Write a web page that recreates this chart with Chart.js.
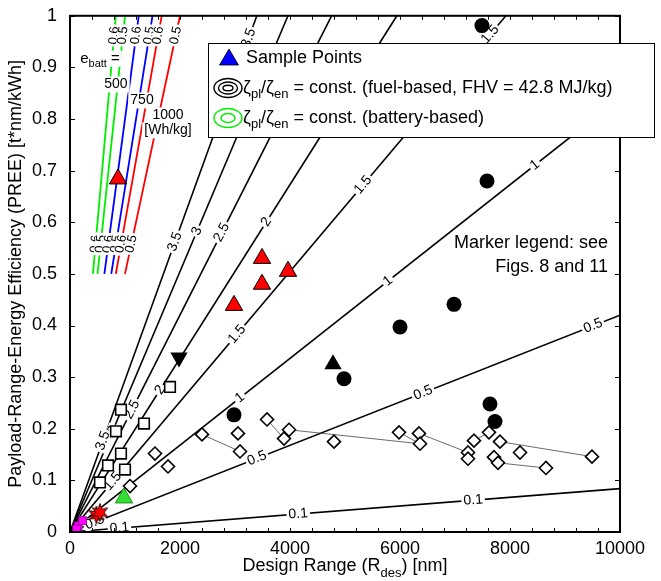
<!DOCTYPE html>
<html>
<head>
<meta charset="utf-8">
<script src="https://cdn.jsdelivr.net/npm/chart.js@4.4.0/dist/chart.umd.min.js"></script>
<style>
  html, body { margin: 0; padding: 0; background: #fff; }
</style>
</head>
<body>
<canvas id="pree" width="661" height="581"></canvas>
<script>
const FONT = "'Liberation Sans', Arial, Helvetica, sans-serif";

// fuel-based lines of constant zeta_pl/zeta_en (FHV = 42.8 MJ/kg), from the origin to the axes edge
const fuelLevels = [0.1, 0.5, 1, 1.5, 2, 2.5, 3, 3.5];
const fuelEndRange = [10000, 10000, 10000, 7926, 5944, 4756, 3963, 3397];
const fuelEndPree = [0.084, 0.42, 0.841, 1, 1, 1, 1, 1];
// range (nm) at which each level is labelled
const fuelLabelRange = [
  [900, 4150, 7330],
  [450, 3400, 6420, 9510],
  [3090, 5780, 8455],
  [780, 3036, 5330, 7640],
  [1636, 3570],
  [1127, 2760],
  [782, 2310, 3700],
  [600, 1910, 3250]
];

// battery-based lines: two levels for each specific energy
const battEnergy = [500, 500, 750, 750, 1000, 1000];
const battLevels = [0.6, 0.5, 0.6, 0.5, 0.6, 0.5];
const battColors = ['#00ee00', '#00ee00', '#0000ff', '#0000ff', '#ff0000', '#ff0000'];
const battStartRange = [417, 500, 625, 750, 833, 1000];
const battEndRange = [833, 1000, 1250, 1500, 1667, 2000];
const battStartPree = 0.5;
const battEndPree = 1;
const battLabelPree = [0.962, 0.558];

// aircraft points
const circleRange = [7490, 7582, 6982, 6000, 4982, 2982, 7636, 7727];
const circlePree = [0.981, 0.680, 0.441, 0.397, 0.297, 0.227, 0.248, 0.214];
const squareRange = [927, 836, 927, 691, 1000, 545, 1345, 1818];
const squarePree = [0.237, 0.195, 0.152, 0.129, 0.121, 0.096, 0.210, 0.281];
const diamondRange = [1091, 1545, 1782, 2400, 3054, 3091, 3582, 3891, 3982, 4800,
  5982, 6345, 6364, 7236, 7236, 7345, 7618, 7818, 7709, 7782, 8182, 8654, 9491];
const diamondPree = [0.089, 0.152, 0.127, 0.189, 0.191, 0.156, 0.218, 0.181, 0.198, 0.175,
  0.193, 0.191, 0.171, 0.154, 0.142, 0.177, 0.193, 0.175, 0.145, 0.134, 0.154, 0.124, 0.146];
// diamond families joined by thin lines: [range pairs], [pree pairs]
const trendRange = [[2400, 3091], [3582, 3891], [3982, 6364], [5982, 6364], [6345, 7236], [7345, 7618], [7818, 9491], [7782, 8654]];
const trendPree = [[0.189, 0.156], [0.218, 0.181], [0.198, 0.171], [0.193, 0.171], [0.191, 0.154], [0.177, 0.193], [0.175, 0.146], [0.134, 0.124]];

const sampleRange = [873, 3491, 3491, 3964, 2982];
const samplePree = [0.684, 0.530, 0.480, 0.505, 0.439];
const blackUpRange = [4782];
const blackUpPree = [0.325];
const blackDownRange = [1982];
const blackDownPree = [0.338];
const greenRange = [982];
const greenPree = [0.066];
const magentaRange = [150, 230, 120];
const magentaPree = [0.012, 0.022, 0.006];
const starRange = [480, 545];
const starPree = [0.033, 0.038];

const xTicks = [0, 2000, 4000, 6000, 8000, 10000];
const yTicks = [0, 0.1, 0.2, 0.3, 0.4, 0.5, 0.6, 0.7, 0.8, 0.9, 1];

function pts(xs, ys) { return xs.map((v, i) => ({ x: v, y: ys[i] })); }

function starImage() {
  const c = document.createElement('canvas');
  c.width = 20; c.height = 20;
  const g = c.getContext('2d');
  g.beginPath();
  for (let i = 0; i < 12; i++) {
    const a = -Math.PI / 2 + i * Math.PI / 6;
    const r = i % 2 ? 4 : 9;
    g.lineTo(10 + r * Math.cos(a), 10 + r * Math.sin(a));
  }
  g.closePath();
  g.fillStyle = '#ff0000';
  g.fill();
  g.strokeStyle = '#000';
  g.lineWidth = 0.8;
  g.stroke();
  return c;
}

const datasets = [];

fuelLevels.forEach((lv, i) => {
  datasets.push({
    label: 'fuel ' + lv, showLine: true, pointRadius: 0, borderColor: '#000', borderWidth: 1.6,
    data: [{ x: 0, y: 0 }, { x: fuelEndRange[i], y: fuelEndPree[i] }], order: 10
  });
});
battLevels.forEach((lv, i) => {
  datasets.push({
    label: 'batt ' + battEnergy[i] + ' ' + lv, showLine: true, pointRadius: 0,
    borderColor: battColors[i], borderWidth: 1.8,
    data: [{ x: battStartRange[i], y: battStartPree }, { x: battEndRange[i], y: battEndPree }], order: 10
  });
});
trendRange.forEach((r, i) => {
  datasets.push({
    label: 'trend', showLine: true, pointRadius: 0, borderColor: '#444', borderWidth: 0.8,
    data: pts(r, trendPree[i]), order: 6
  });
});

const marker = (label, xs, ys, style, extra) => Object.assign({
  label, data: pts(xs, ys), pointStyle: style, marker: true, showLine: false
}, extra);

datasets.push(marker('circles', circleRange, circlePree, 'circle',
  { pointRadius: 7.5, backgroundColor: '#000', borderColor: '#000', borderWidth: 0, order: 4 }));
datasets.push(marker('squares', squareRange, squarePree, 'rect',
  { pointRadius: 7.5, backgroundColor: '#fff', borderColor: '#000', borderWidth: 1.6, order: 3 }));
datasets.push(marker('diamonds', diamondRange, diamondPree, 'rectRot',
  { pointRadius: 6.5, backgroundColor: '#fff', borderColor: '#000', borderWidth: 1.6, order: 3 }));
datasets.push(marker('black up', blackUpRange, blackUpPree, 'triangle',
  { pointRadius: 10, backgroundColor: '#000', borderColor: '#000', borderWidth: 0, order: 2 }));
datasets.push(marker('black down', blackDownRange, blackDownPree, 'triangle',
  { pointRadius: 10, rotation: 180, backgroundColor: '#000', borderColor: '#000', borderWidth: 0, order: 2 }));
datasets.push(marker('sample', sampleRange, samplePree, 'triangle',
  { pointRadius: 10, backgroundColor: '#ff0000', borderColor: '#000', borderWidth: 1, order: 1 }));
datasets.push(marker('green', greenRange, greenPree, 'triangle',
  { pointRadius: 10, backgroundColor: '#33dd33', borderColor: '#1a8f1a', borderWidth: 1, order: 1 }));
datasets.push(marker('magenta', magentaRange, magentaPree, 'rect',
  { pointRadius: 5.5, backgroundColor: '#ff00ff', borderColor: '#990099', borderWidth: 0.8, order: 1 }));
datasets.push(marker('stars', starRange, starPree, starImage(), { order: 0 }));

// --- drawing helpers -------------------------------------------------------

function lineLabel(ctx, px, py, angle, text, size) {
  if (angle < -Math.PI / 2) angle += Math.PI;
  if (angle > Math.PI / 2) angle -= Math.PI;
  ctx.save();
  ctx.translate(px, py);
  ctx.rotate(angle);
  ctx.font = size + 'px ' + FONT;
  const w = ctx.measureText(text).width;
  ctx.fillStyle = '#fff';
  ctx.fillRect(-w / 2 - 2, -size * 0.45, w + 4, size * 0.9);
  ctx.fillStyle = '#000';
  ctx.textAlign = 'center';
  ctx.textBaseline = 'middle';
  ctx.fillText(text, 0, 0);
  ctx.restore();
}

function boxedText(ctx, cx, cy, parts) {
  // parts: [text, size, dy]
  let w = 0;
  parts.forEach(p => { ctx.font = p[1] + 'px ' + FONT; w += ctx.measureText(p[0]).width; });
  ctx.fillStyle = '#fff';
  ctx.fillRect(cx - w / 2 - 2, cy - 8, w + 4, 16);
  ctx.fillStyle = '#000';
  ctx.textBaseline = 'middle';
  ctx.textAlign = 'left';
  let x = cx - w / 2;
  parts.forEach(p => {
    ctx.font = p[1] + 'px ' + FONT;
    ctx.fillText(p[0], x, cy + p[2]);
    x += ctx.measureText(p[0]).width;
  });
}

function drawLabels(chart) {
  const { ctx, chartArea: a, scales: { x, y } } = chart;
  ctx.save();
  ctx.beginPath();
  ctx.rect(a.left, a.top, a.right - a.left, a.bottom - a.top);
  ctx.clip();

  fuelLevels.forEach((lv, i) => {
    const x0 = x.getPixelForValue(0), y0 = y.getPixelForValue(0);
    const x1 = x.getPixelForValue(fuelEndRange[i]), y1 = y.getPixelForValue(fuelEndPree[i]);
    const ang = Math.atan2(y1 - y0, x1 - x0);
    const slope = fuelEndPree[i] / fuelEndRange[i];
    fuelLabelRange[i].forEach(r => {
      lineLabel(ctx, x.getPixelForValue(r), y.getPixelForValue(r * slope), ang, String(lv), 14);
    });
  });

  battLevels.forEach((lv, i) => {
    const x0 = x.getPixelForValue(battStartRange[i]), y0 = y.getPixelForValue(battStartPree);
    const x1 = x.getPixelForValue(battEndRange[i]), y1 = y.getPixelForValue(battEndPree);
    const ang = Math.atan2(y1 - y0, x1 - x0);
    battLabelPree.forEach(p => {
      const t = (p - battStartPree) / (battEndPree - battStartPree);
      const r = battStartRange[i] + t * (battEndRange[i] - battStartRange[i]);
      lineLabel(ctx, x.getPixelForValue(r), y.getPixelForValue(p), ang, String(lv), 13);
    });
  });

  // specific energy annotations
  boxedText(ctx, x.getPixelForValue(545), y.getPixelForValue(0.917), [['e', 15, 0], ['batt', 11, 5], [' =', 15, 0]]);
  boxedText(ctx, x.getPixelForValue(836), y.getPixelForValue(0.867), [['500', 14, 0]]);
  boxedText(ctx, x.getPixelForValue(1309), y.getPixelForValue(0.836), [['750', 14, 0]]);
  boxedText(ctx, x.getPixelForValue(1782), y.getPixelForValue(0.807), [['1000', 14, 0]]);
  boxedText(ctx, x.getPixelForValue(1782), y.getPixelForValue(0.778), [['[Wh/kg]', 14, 0]]);
  ctx.restore();
}

function drawFrame(chart) {
  const { ctx, chartArea: a, scales: { x, y } } = chart;
  ctx.save();
  ctx.strokeStyle = '#000';
  ctx.lineWidth = 1;
  ctx.beginPath();
  for (let v = 0; v <= 10000; v += 400) {
    const px = Math.round(x.getPixelForValue(v)) + 0.5;
    ctx.moveTo(px, a.bottom); ctx.lineTo(px, a.bottom - 4);
    ctx.moveTo(px, a.top); ctx.lineTo(px, a.top + 4);
  }
  yTicks.forEach(v => {
    const py = Math.round(y.getPixelForValue(v)) + 0.5;
    ctx.moveTo(a.left, py); ctx.lineTo(a.left + 5, py);
    ctx.moveTo(a.right, py); ctx.lineTo(a.right - 5, py);
  });
  ctx.stroke();
  ctx.lineWidth = 2;
  ctx.strokeRect(a.left, a.top, a.right - a.left, a.bottom - a.top);

  // marker note
  ctx.fillStyle = '#000';
  ctx.font = '18px ' + FONT;
  ctx.textAlign = 'right';
  ctx.textBaseline = 'middle';
  ctx.fillText('Marker legend: see', 608, 243);
  ctx.fillText('Figs. 8 and 11', 608, 267);

  // x axis title with subscript
  const parts = [['Design Range (R', 18, 0], ['des', 13, 6], [') [nm]', 18, 0]];
  let w = 0;
  parts.forEach(p => { ctx.font = p[1] + 'px ' + FONT; w += ctx.measureText(p[0]).width; });
  let tx = (a.left + a.right) / 2 - w / 2;
  ctx.textAlign = 'left';
  ctx.textBaseline = 'alphabetic';
  parts.forEach(p => {
    ctx.font = p[1] + 'px ' + FONT;
    ctx.fillText(p[0], tx, 571 + p[2]);
    tx += ctx.measureText(p[0]).width;
  });
  ctx.restore();
}

function zetaRatio(ctx, x, y, rest) {
  const parts = [['\u03B6', 18, 0], ['pl', 13, 6], ['/\u03B6', 18, 0], ['en', 13, 6], [rest, 18, 0]];
  ctx.textBaseline = 'middle';
  ctx.textAlign = 'left';
  parts.forEach(p => {
    ctx.font = p[1] + 'px ' + FONT;
    ctx.fillText(p[0], x, y + p[2]);
    x += ctx.measureText(p[0]).width;
  });
}

function ellipses(ctx, cx, cy, color, radii) {
  ctx.strokeStyle = color;
  ctx.lineWidth = 1.4;
  radii.forEach(r => {
    ctx.beginPath();
    ctx.ellipse(cx, cy, r[0], r[1], 0, 0, Math.PI * 2);
    ctx.stroke();
  });
}

function drawLegend(chart) {
  const ctx = chart.ctx;
  ctx.save();
  ctx.fillStyle = '#fff';
  ctx.fillRect(208, 43, 447, 95);
  ctx.strokeStyle = '#000';
  ctx.lineWidth = 1;
  ctx.strokeRect(208.5, 43.5, 446, 94);

  // blue triangle
  ctx.fillStyle = '#0000ff';
  ctx.beginPath();
  ctx.moveTo(229, 49); ctx.lineTo(238.5, 65); ctx.lineTo(219.5, 65);
  ctx.closePath();
  ctx.fill();
  ctx.strokeStyle = '#000';
  ctx.lineWidth = 0.8;
  ctx.stroke();

  ctx.fillStyle = '#000';
  ctx.font = '18px ' + FONT;
  ctx.textBaseline = 'middle';
  ctx.fillText('Sample Points', 246, 58);

  ellipses(ctx, 228, 88, '#000', [[14, 9.5], [9.5, 6], [5, 2.8]]);
  ctx.fillStyle = '#000';
  zetaRatio(ctx, 243, 88, ' = const. (fuel-based, FHV = 42.8 MJ/kg)');

  ellipses(ctx, 228, 118, '#00ee00', [[14, 9.5], [7, 4.5]]);
  ctx.fillStyle = '#000';
  zetaRatio(ctx, 243, 118, ' = const. (battery-based)');
  ctx.restore();
}

const preePlugin = {
  id: 'preeDecor',
  beforeDraw(chart) { chart.$labelsDone = false; },
  beforeDatasetDraw(chart, args) {
    const ds = chart.data.datasets[args.index];
    if (ds.marker && !chart.$labelsDone) {
      drawLabels(chart);
      chart.$labelsDone = true;
    }
  },
  afterDatasetsDraw(chart) { drawFrame(chart); },
  afterDraw(chart) { drawLegend(chart); }
};

new Chart(document.getElementById('pree'), {
  type: 'scatter',
  data: { datasets },
  options: {
    responsive: false,
    devicePixelRatio: 1,
    animation: false,
    events: [],
    layout: { padding: { top: 13, right: 41, left: 0, bottom: 0 } },
    plugins: { legend: { display: false }, tooltip: { enabled: false } },
    scales: {
      x: {
        type: 'linear', min: 0, max: 10000,
        afterBuildTicks: s => { s.ticks = xTicks.map(v => ({ value: v })); },
        afterFit: s => { s.height = 49; },
        grid: { display: false },
        border: { display: false },
        ticks: { color: '#000', font: { family: FONT, size: 18 }, padding: -2, maxRotation: 0, callback: v => String(v) }
      },
      y: {
        type: 'linear', min: 0, max: 1,
        afterBuildTicks: s => { s.ticks = yTicks.map(v => ({ value: v })); },
        afterFit: s => { s.width = 70; },
        grid: { display: false },
        border: { display: false },
        ticks: { color: '#000', font: { family: FONT, size: 18 }, padding: 5, callback: v => String(Math.round(v * 10) / 10) },
        title: {
          display: true, text: 'Payload-Range-Energy Efficiency (PREE) [t*nm/kWh]',
          color: '#000', font: { family: FONT, size: 18 }, padding: { top: 5, bottom: 0 }
        }
      }
    }
  }
  ,
  plugins: [preePlugin]
});
</script>
</body>
</html>
